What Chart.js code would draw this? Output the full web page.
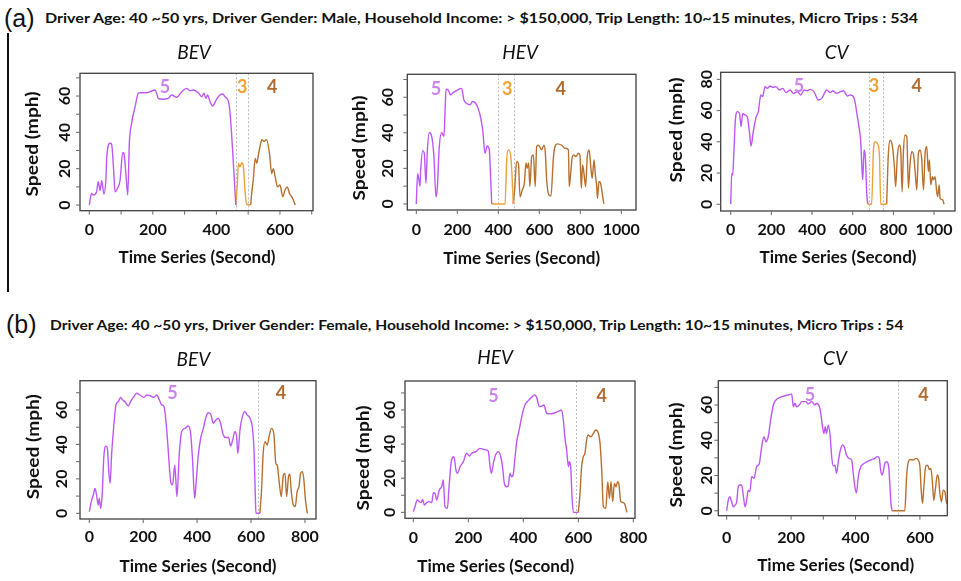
<!DOCTYPE html>
<html>
<head>
<meta charset="utf-8">
<script src="https://cdn.jsdelivr.net/npm/chart.js@4.4.0/dist/chart.umd.min.js"></script>
<style>
body{margin:0;background:#fff;width:961px;height:581px;overflow:hidden;position:relative;font-family:Lato,sans-serif;color:#111}
canvas{position:absolute;left:0;top:0}
.tag{position:absolute;font-family:'Liberation Sans',sans-serif;font-size:25px;line-height:25px}
.info{position:absolute;display:inline-block;font-family:Lato,sans-serif;font-weight:bold;font-size:14px;line-height:16px;white-space:nowrap;transform-origin:0 50%}
#rule{position:absolute;left:7px;top:33px;width:1.5px;height:259px;background:#111}
</style>
</head>
<body>
<div id="rule"></div>
<div class="tag" style="left:4px;top:6px">(a)</div>
<div class="info" id="infoA" style="left:45px;top:10px">Driver Age: 40 ~50 yrs, Driver Gender: Male, Household Income: &gt; $150,000, Trip Length: 10~15 minutes, Micro Trips : 534</div>
<div class="tag" style="left:6px;top:312px">(b)</div>
<div class="info" id="infoB" style="left:50px;top:317px">Driver Age: 40 ~50 yrs, Driver Gender: Female, Household Income: &gt; $150,000, Trip Length: 10~15 minutes, Micro Trips : 54</div>

<canvas id="aBev" width="961" height="581"></canvas>
<canvas id="aHev" width="961" height="581"></canvas>
<canvas id="aCv" width="961" height="581"></canvas>
<canvas id="bBev" width="961" height="581"></canvas>
<canvas id="bHev" width="961" height="581"></canvas>
<canvas id="bCv" width="961" height="581"></canvas>

<script>
// speed traces, [second, mph]
const aBevTrace = [[0,0],[7,6.4],[13,5.5],[23,7.3],[28,12.8],[34,8],[39,13.4],[46,6],[52,13.8],[55,26.6],[65,34],[70,33.6],[76,21],[81,7.3],[88,9],[97,13.8],[105,29],[109,28.4],[115,17.4],[121,5.5],[126,34],[133,45],[144,54],[154,61.5],[160,61.8],[180,61.8],[191,62.4],[207,63.3],[212,61.5],[217,58.7],[233,58.2],[249,58.7],[259,60.6],[275,59.3],[291,62.4],[306,64.2],[317,62.9],[327,63.3],[343,61.8],[354,59.6],[361,61.5],[367,58.7],[372,60.6],[380,56.9],[388,54.5],[399,57.8],[411,60.6],[420,61.1],[427,59.6],[438,56.9],[443,50.5],[451,30.3],[457,12],[461,0],
  [466,12],[469,23],[474,21],[480,23.3],[485,21],[490,8],[495,0.5],[508,0],
  [511,6.4],[516,13.8],[522,25.7],[527,23],[532,27.5],[537,32],[543,36],[550,35],[558,36],[567,28.4],[574,17.4],[579,20],[585,15.6],[592,10],[600,11],[609,4.6],[616,8.3],[623,10],[630,6.4],[637,4.6],[642,2.8],[648,0]];
const aBevSplits = [461, 508];
const aBevDividers = [462, 501];
const aBevXTicks = [0,100,200,300,400,500,600,700];
const aBevXLabels = [0,200,400,600];
const aBevYTicks = [0,10,20,30,40,50,60,70];
const aBevYLabels = [0,20,40,60];

const aHevTrace = [[0,0],[6.5,17],[13,13.5],[18,10],[21,18],[31,30],[39,28.5],[47,11.6],[54,30],[63,40],[75,38],[86,26.6],[96,4],[102,8],[112,32],[124,40],[135,38],[140,51],[145,64.5],[156,64],[167,61.3],[180,62.6],[200,64],[221,65],[232,58.5],[245,56.6],[262,55.7],[275,57.6],[286,57],[298,54.8],[311,50],[324,41.6],[335,28.5],[346,32.6],[356,30.4],[363,13.5],[368,0],
  [433,0],[441,24.8],[449,30.4],[460,27.6],[468,13.5],[473,0],
  [481,9.75],[489,23.8],[498,23],[506,4],[517,8],[527,11.6],[535,23],[541,20],[548,23],[554,9.75],[563,26.6],[571,27.6],[580,9.75],[587,32.2],[595,33],[603,32],[611,30.4],[623,33],[629,29.4],[636,13.5],[647,5],[657,4.5],[668,24.8],[676,32],[688,33.8],[709,33],[725,31.3],[742,30.4],[746,9.75],[753,17],[761,26.6],[769,27.6],[779,26.6],[790,28.5],[798,27.6],[805,8.8],[811,22],[818,17],[826,9.75],[834,26.6],[843,30.4],[851,21],[858,14.4],[867,24.8],[873,17],[880,9.75],[884,3.2],[891,12.6],[899,11.6],[907,6],[915,0]];
const aHevSplits = [368, 473];
const aHevDividers = [400, 476];
const aHevXTicks = [0,200,400,600,800,1000];
const aHevXLabels = [0,200,400,600,800,1000];
const aHevYTicks = [0,10,20,30,40,50,60,70];
const aHevYLabels = [0,20,40,60];

const aCvTrace = [[0,0],[5,19.8],[10,18.8],[16,34.8],[23,54],[33,59.3],[43,58.2],[51,49.7],[59,58.2],[70,57.2],[82,55.7],[92,46.5],[100,37.3],[111,46.5],[125,56],[136,59.3],[148,70],[157,69],[169,75.3],[180,74.2],[193,75.7],[207,74.9],[223,75.3],[239,73.2],[256,74.2],[272,71.5],[292,73.2],[308,71],[328,72],[344,70],[361,73.2],[377,72.7],[390,73.6],[410,72],[431,66.8],[448,67.8],[472,73.2],[489,71.5],[502,72.7],[521,71],[538,72],[554,72.7],[574,69.3],[587,70],[603,69],[611,65.7],[623,56],[633,47.6],[639,41],[649,15.6],[656,34.8],[662,30.5],[669,7],[674,0],
  [693,0],[702,34.8],[710,40],[721,39],[731,32.6],[738,0],[767,0],
  [775,31.6],[784,41],[795,37.3],[805,24],[811,11.3],[820,31.6],[830,38],[836,34.8],[843,8],[849,32.6],[857,44.4],[866,43.3],[874,10.2],[882,26.2],[890,33.7],[898,32.6],[907,21],[915,9.2],[923,32.6],[931,34.8],[939,29.4],[948,9.2],[956,32.6],[964,37],[972,21],[977,28.4],[984,12.4],[992,17.7],[997,15.6],[1005,17.7],[1013,8],[1018,5],[1025,12.4],[1030,3.8],[1043,2.8],[1049,0]];
const aCvSplits = [674, 767];
const aCvDividers = [682, 751];
const aCvXTicks = [0,200,400,600,800,1000];
const aCvXLabels = [0,200,400,600,800,1000];
const aCvYTicks = [0,20,40,60,80];
const aCvYLabels = [0,20,40,60,80];

const bBevTrace = [[0,1],[8.7,7.7],[14.8,10.6],[21,14.5],[27,10.6],[33,4.8],[37,8.7],[42,2.9],[48,11.6],[54,33],[62,39],[67,37.7],[72,25],[77,17.4],[83,34.8],[91.5,52],[99,63],[107.5,64.8],[116,67.3],[124,65.8],[132,64.8],[145,62.3],[153,64.8],[163,67.3],[176,69.7],[188,68.7],[203,67.3],[213,68.7],[227,68.1],[240,67.3],[250,68.7],[260,65.8],[268,63],[277,62],[284,54],[291,40.6],[297,27],[303,17.4],[309,16.5],[317,28],[321,19.4],[325,9.7],[334,34.8],[342.5,47.4],[355,49.3],[367,50.7],[376,46.4],[383,31],[391,8.7],[396,17.4],[404,33],[413,43.5],[423,49.3],[433,56],[441,58.4],[450,57.7],[460,52.3],[470,54.2],[478.5,55.2],[487,52.3],[497,45.5],[507,44],[517,44],[524,39],[532,42.6],[540,47.4],[546.5,44.5],[551,34.8],[559,48.4],[567.5,56],[577,59],[586,57],[596,55.2],[606,48.4],[611,36.8],[616,9.7],[618,0],[633,0],
  [639,13.5],[645,34.8],[652,41.6],[660,39.7],[668,45.5],[676,49.3],[685,45.5],[692,29],[697,28],[705,17.4],[712,9.7],[720,22.3],[726,23.2],[732,9.7],[739,21.3],[744,22.8],[750,11.6],[757,4.8],[764,3.9],[771,12.6],[778,15.5],[784,23.2],[791,24.2],[796,19.4],[802,7.7],[809,0]];
const bBevSplits = [633];
const bBevDividers = [627];
const bBevXTicks = [0,200,400,600,800];
const bBevXLabels = [0,200,400,600,800];
const bBevYTicks = [0,10,20,30,40,50,60,70];
const bBevYLabels = [0,20,40,60];

const bHevTrace = [[0,0.4],[6,3.3],[14.5,7.2],[22,6.3],[28,5.7],[34,7.6],[40,4.3],[48.5,5.7],[58,6.3],[67,5.7],[73,11.5],[79,11.1],[85,7.2],[94.5,13.1],[103,15],[109,19],[115,3.3],[124,2.3],[130,15],[139,30.7],[148,32.6],[155,24.8],[161,22.9],[170,26.8],[182,29.7],[194,34.6],[204,33],[212,34.6],[228,35.6],[242,37.5],[255,36.9],[267,36.5],[273,35.6],[279,26.8],[284,22.9],[291,28.7],[299,33.6],[309,35.6],[318,32.6],[325,25.8],[331,17],[339,15],[345,15.4],[351.5,22.9],[357.5,20.9],[364,22.9],[370,32.6],[376,41.4],[385,48.3],[394,56],[406,62.9],[418,65.5],[430,67.4],[442,68.8],[448.5,67.4],[458,62],[467,62.3],[475,62.9],[485,58],[497,57.7],[515,58.4],[533,59.6],[539,60],[545.5,54],[551.5,43.4],[557.5,36.5],[564,26.8],[567,29.7],[572,26.8],[577,9.2],[582,0],[600,0],
  [606,11.1],[612,26.8],[618,32.6],[624,34.6],[630,42.4],[636,45.3],[645,44.3],[655,46.3],[663,48.3],[673,46.3],[679,40.4],[685,24.8],[691,3.3],[700,2.3],[707,18],[713,8.2],[719,18],[725,6.3],[731,17],[737,15],[743,18],[748,16],[754,6.3],[764,5.7],[770,4.3],[776,0]];
const bHevSplits = [600];
const bHevDividers = [590];
const bHevXTicks = [0,200,400,600,800];
const bHevXLabels = [0,200,400,600,800];
const bHevYTicks = [0,10,20,30,40,50,60,70];
const bHevYLabels = [0,20,40,60];

const bCvTrace = [[0,0],[5,6],[10,8],[15.5,5],[20.7,2.3],[26,3.2],[31,5],[36,13.6],[41,14.6],[46.5,14.6],[52,8],[57,2.3],[62,6],[67,11.7],[72,10.8],[77.6,19.3],[85,18.4],[93,25],[101,26.5],[108.6,36.3],[116,42],[122,39.2],[129,42],[136.5,51.5],[145,60],[155,63.2],[165.5,64.4],[178,65.1],[191,65.7],[202,66.2],[207,59],[212,61],[217,59],[225.5,60],[233,61.9],[246,61.9],[253,60.6],[264,61.9],[274,60],[279,61],[288,59],[293,54.3],[298,46.8],[302,43.9],[306,47.7],[310,43.9],[315.5,48.6],[321,43],[326,30.7],[331,25.4],[336,25.9],[341,21.2],[346.5,27.8],[352,33.5],[359,37.3],[365,36.3],[372,31.6],[380,29.7],[388,28.8],[393,21.2],[398,13.6],[403,10.2],[408.6,19.3],[416,25],[424,26.5],[434.5,27.8],[447,28.8],[460,29.7],[467.6,30.7],[474,29.7],[478,23],[482,20.3],[486,22],[491,26.9],[496.6,27.8],[503,25],[507,13.6],[510,4.2],[514,0],
  [553,0],[558.6,19.3],[564,27.8],[571,29.1],[579,28.8],[587.6,29.7],[594.8,28.8],[600,25],[604,11.7],[608,4.2],[612,12.7],[617.6,25],[624,25.9],[629,23.5],[634,24],[639,15.5],[643,6],[647.6,11.7],[654,20.3],[658,18.4],[662,9.8],[667,5],[672,11.7],[677.6,10.8],[683,4.2],[689,8],[695,3]];
const bCvSplits = [514];
const bCvDividers = [533];
const bCvXTicks = [0,100,200,300,400,500,600];
const bCvXLabels = [0,200,400,600];
const bCvYTicks = [0,10,20,30,40,50,60,70];
const bCvYLabels = [0,20,40,60];

const phasesA = ['5','3','4'];
const phasesB = ['5','4'];

const lineColor = {'5': '#bd58f5', '3': '#eba23a', '4': '#b8702e'};
const textColor = {'5': '#cd84f0', '3': '#f0a232', '4': '#b4692c'};

// squeeze or stretch a string to a set width
function fitText(ctx, text, x, y, w, rot){
  const m = ctx.measureText(text).width;
  ctx.save();
  ctx.translate(x, y);
  if(rot) ctx.rotate(-Math.PI/2);
  if(w) ctx.scale(w/m, 1);
  ctx.fillText(text, 0, 0);
  ctx.restore();
}

// R style frame: box, outward ticks, upright y labels, dotted phase dividers
const rFrame = (p) => ({
  id: 'rFrame',
  beforeDatasetsDraw(chart){
    const {ctx, chartArea: a, scales: {x}} = chart;
    ctx.save();
    ctx.strokeStyle = '#bdbdbd';
    ctx.lineWidth = 1;
    ctx.setLineDash([2, 2]);
    p.dividers.forEach(v => {
      const px = Math.round(x.getPixelForValue(v)) + 0.5;
      ctx.beginPath(); ctx.moveTo(px, a.top); ctx.lineTo(px, a.bottom); ctx.stroke();
    });
    ctx.restore();
  },
  afterDraw(chart){
    const {ctx, chartArea: a, scales: {x, y}} = chart;
    ctx.save();
    ctx.strokeStyle = '#404040';
    ctx.lineWidth = 1.3;
    ctx.strokeRect(a.left, a.top, a.right - a.left, a.bottom - a.top);

    ctx.strokeStyle = '#666';
    ctx.lineWidth = 1;
    p.xTicks.forEach(v => {
      const px = x.getPixelForValue(v);
      ctx.beginPath(); ctx.moveTo(px, a.bottom); ctx.lineTo(px, a.bottom + 4); ctx.stroke();
    });
    p.yTicks.forEach(v => {
      const py = y.getPixelForValue(v);
      ctx.beginPath(); ctx.moveTo(a.left, py); ctx.lineTo(a.left - 4, py); ctx.stroke();
    });

    ctx.fillStyle = '#111';
    ctx.textAlign = 'center';
    ctx.textBaseline = 'middle';
    ctx.font = 'bold 16px Lato';
    p.xLabels.forEach(v => fitText(ctx, String(v), x.getPixelForValue(v), p.xLabelY));
    p.yLabels.forEach(v => fitText(ctx, String(v), p.yLabelX, y.getPixelForValue(v), 0, true));

    ctx.font = 'bold 17px Lato';
    fitText(ctx, 'Time Series (Second)', p.xTitle[0], p.xTitle[1], 157);
    fitText(ctx, 'Speed (mph)', p.yTitle[0], p.yTitle[1], 105, true);

    ctx.font = 'italic 19px Lato';
    fitText(ctx, p.name, p.title[0], p.title[1]);

    ctx.font = 'bold 18px Lato';
    p.phases.forEach((ph, k) => {
      ctx.fillStyle = textColor[ph];
      fitText(ctx, ph, x.getPixelForValue(p.phaseAt[k]), y.getPixelForValue(p.phaseY));
    });
    ctx.restore();
  }
});

function buildSets(trace, splits, phases){
  let start = -Infinity;
  return phases.map((ph, k) => {
    const end = k < splits.length ? splits[k] : Infinity;
    const pts = trace.filter(d => d[0] >= start && d[0] <= end).map(d => ({x: d[0], y: d[1]}));
    start = end;
    return {
      data: pts,
      borderColor: lineColor[ph],
      borderWidth: 1.4,
      pointRadius: 0,
      fill: false,
      cubicInterpolationMode: 'monotone'
    };
  });
}

const panels = [
  {id:'aBev', name:'BEV', trace:aBevTrace, splits:aBevSplits, dividers:aBevDividers, phases:phasesA,
   xTicks:aBevXTicks, xLabels:aBevXLabels, yTicks:aBevYTicks, yLabels:aBevYLabels,
   box:[80,73.3,313,210.7], xr:[-29.3,704], yr:[-3.1,72.5],
   title:[194,53], xTitle:[197,258], yTitle:[33,144], yLabelX:65, xLabelY:229.5,
   phaseAt:[238,481,576], phaseY:65},
  {id:'aHev', name:'HEV', trace:aHevTrace, splits:aHevSplits, dividers:aHevDividers, phases:phasesA,
   xTicks:aHevXTicks, xLabels:aHevXLabels, yTicks:aHevYTicks, yLabels:aHevYLabels,
   box:[407.3,74.3,636,210], xr:[-43.9,1071.7], yr:[-3.4,72.9],
   title:[520,53], xTitle:[521.7,258.3], yTitle:[360,148], yLabelX:388.3, xLabelY:229.5,
   phaseAt:[96,444,704], phaseY:64.7},
  {id:'aCv', name:'CV', trace:aCvTrace, splits:aCvSplits, dividers:aCvDividers, phases:phasesA,
   xTicks:aCvXTicks, xLabels:aCvXLabels, yTicks:aCvYTicks, yLabels:aCvYLabels,
   box:[720.7,72.3,955,211], xr:[-49.2,1103], yr:[-4.3,84.5],
   title:[836.7,53], xTitle:[838,258], yTitle:[676.7,130], yLabelX:706.7, xLabelY:230,
   phaseAt:[336,705,915], phaseY:75.9},
  {id:'bBev', name:'BEV', trace:bBevTrace, splits:bBevSplits, dividers:bBevDividers, phases:phasesB,
   xTicks:bBevXTicks, xLabels:bBevXLabels, yTicks:bBevYTicks, yLabels:bBevYLabels,
   box:[80,380.7,316,519], xr:[-34.5,841], yr:[-3.3,77],
   title:[193.3,360], xTitle:[198,566.7], yTitle:[33.3,446.7], yLabelX:61.7, xLabelY:536.7,
   phaseAt:[309,711], phaseY:69.7},
  {id:'bHev', name:'HEV', trace:bHevTrace, splits:bHevSplits, dividers:bHevDividers, phases:phasesB,
   xTicks:bHevXTicks, xLabels:bHevXLabels, yTicks:bHevYTicks, yLabels:bHevYLabels,
   box:[405,381,635,518.3], xr:[-30.2,806], yr:[-3.5,77],
   title:[495,358.3], xTitle:[495.8,566.7], yTitle:[363.3,458], yLabelX:390, xLabelY:538,
   phaseAt:[291,685], phaseY:68.2},
  {id:'bCv', name:'CV', trace:bCvTrace, splits:bCvSplits, dividers:bCvDividers, phases:phasesB,
   xTicks:bCvXTicks, xLabels:bCvXLabels, yTicks:bCvYTicks, yLabels:bCvYLabels,
   box:[718.3,380.7,947.3,515.7], xr:[-26,685], yr:[-2.8,73.8],
   title:[835,359.3], xTitle:[835.7,566], yTitle:[676.7,455], yLabelX:706.7, xLabelY:538,
   phaseAt:[259,611], phaseY:65.7}
];

panels.forEach(p => {
  const [l, t, r, b] = p.box;
  new Chart(document.getElementById(p.id), {
    type: 'line',
    data: {datasets: buildSets(p.trace, p.splits, p.phases)},
    options: {
      responsive: false,
      animation: false,
      events: [],
      layout: {padding: {left: l, top: t, right: 961 - r, bottom: 581 - b}},
      plugins: {legend: {display: false}, tooltip: {enabled: false}},
      scales: {
        x: {type: 'linear', display: false, min: p.xr[0], max: p.xr[1]},
        y: {type: 'linear', display: false, min: p.yr[0], max: p.yr[1]}
      }
    },
    plugins: [rFrame(p)]
  });
});

// stretch the two header lines to their printed width
[['infoA', 873], ['infoB', 853]].forEach(([id, w]) => {
  const el = document.getElementById(id);
  el.style.transform = 'scaleX(' + (w / el.offsetWidth) + ')';
});
</script>
</body>
</html>
